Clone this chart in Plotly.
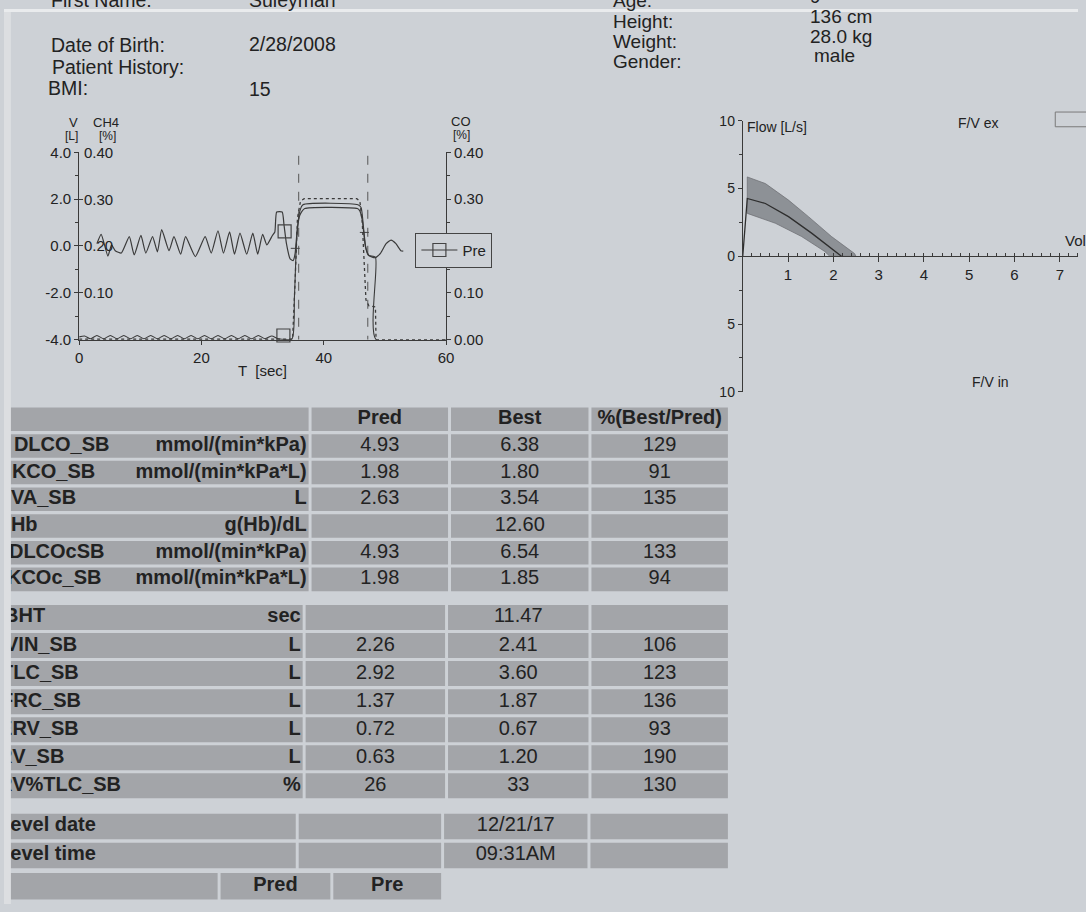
import plotly.graph_objects as go

W, H = 1086, 912
PAPER = "#cdd1d6"
CELL = "#a3a5a9"
INK = "#222222"
LINE = "#3a3a3a"
FONT = "Liberation Sans"

# ---------------- data ----------------
# patient header
left_labels = ["First Name:", "Date of Birth:", "Patient History:", "BMI:"]
left_values = ["Suleyman", "2/28/2008", "", "15"]
right_labels = ["Age:", "Height:", "Weight:", "Gender:"]
right_values = ["9", "136 cm", "28.0 kg", "male"]

# single-breath manoeuvre: volume [L] vs time [s]
vol_t = [2.9, 3.6, 4.7, 5.3, 5.9, 6.9, 8.2, 9.0, 10.1, 10.9, 12.0, 12.8, 13.5, 14.7,
         15.5, 16.6, 17.4, 19.0, 20.6, 21.6, 22.7, 23.6, 24.6, 25.4, 26.3, 27.4, 28.4,
         29.2, 30.0, 30.7, 31.6, 32.0, 32.3, 33.2, 33.5, 33.9, 34.5, 35.0, 35.3, 35.7,
         36.1, 36.9, 45.5, 45.9, 46.3, 46.8, 47.3, 48.4, 49.3, 50.2, 51.0, 51.8, 52.6, 53.0]
vol_v = [0.1, 0.5, -0.43, 0.05, -0.2, -0.3, 0.4, -0.38, 0.45, -0.3, 0.4, -0.25, 0.7, -0.2,
         0.4, -0.35, 0.4, -0.45, 0.4, -0.3, 0.65, -0.3, 0.6, -0.35, 0.55, -0.35, 0.55,
         -0.35, 0.5, 0.05, 0.45, 0.6, 1.45, 1.45, 0.9, 0.1, -0.55, -0.62, -0.35, 0.8,
         1.32, 1.6, 1.6, 1.5, 1.1, 0.0, -0.4, -0.5, -0.3, 0.1, 0.25, 0.1, -0.2, -0.22]

# CH4 tracer [%]
ch4_t = [0.0, 0.9, 1.8, 2.9, 4.0, 5.1, 6.2, 7.3, 8.4, 9.5, 10.6, 11.7, 12.8, 13.9, 15.0,
         16.1, 17.2, 18.3, 19.4, 20.5, 21.6, 22.7, 23.8, 24.9, 26.0, 27.1, 28.2, 29.3,
         30.4, 31.5, 32.6, 34.8, 35.2, 35.6, 36.1, 36.6, 45.6, 46.1, 46.5, 46.9, 47.4,
         48.45, 48.55, 60.0]
ch4_v = [0.006, 0.008, 0.002, 0.009, 0.002, 0.009, 0.002, 0.009, 0.002, 0.009, 0.002,
         0.009, 0.002, 0.009, 0.002, 0.009, 0.002, 0.009, 0.002, 0.009, 0.002, 0.009,
         0.002, 0.009, 0.002, 0.009, 0.002, 0.009, 0.002, 0.008, 0.002, 0.002, 0.09,
         0.22, 0.275, 0.288, 0.288, 0.282, 0.24, 0.195, 0.18, 0.176, 0.0, 0.0]

# CO tracer [%]
co_t = [0.0, 33.0, 34.9, 35.3, 35.7, 36.2, 36.8, 45.4, 45.9, 46.3, 46.6, 46.9, 47.4,
        48.45, 48.55, 60.0]
co_v = [0.001, 0.001, 0.001, 0.12, 0.26, 0.296, 0.301, 0.301, 0.296, 0.25, 0.15, 0.085,
        0.072, 0.070, 0.0, 0.0]

# "Pre" markers (time, volume-axis value)
pre_t = [33.6, None, 33.4, None, 33.5]
pre_v = [0.62, None, -3.82, None, -4.05]

# breath-hold window and evaluation marks
window_t = [35.9, 47.2]
mark_t0 = [34.6, 45.9]
mark_t1 = [36.6, 48.1]
mark_v = [-0.1, 0.58]

# axis tick values
t_ticks = [0, 20, 40, 60]
v_ticks = [-4, -2, 0, 2, 4]
ch4_ticks = [0.1, 0.2, 0.3, 0.4]
co_ticks = [0.0, 0.1, 0.2, 0.3, 0.4]

# flow-volume: measured curve and predicted band
fv_vol = [0.0, 0.10, 0.50, 1.01, 1.52, 1.99, 2.18]
fv_flow = [0.0, 4.27, 3.90, 2.93, 1.71, 0.49, 0.0]
band_up_vol = [0.10, 0.50, 1.01, 1.45, 1.96, 2.47, 2.50]
band_up_flow = [5.86, 5.37, 4.15, 2.93, 1.46, 0.20, 0.0]
band_lo_vol = [0.10, 0.72, 1.30, 1.81, 1.92]
band_lo_flow = [3.17, 2.44, 1.46, 0.36, 0.0]
fv_xticks = [1, 2, 3, 4, 5, 6, 7]
fv_yticks = [-10, -5, 0, 5, 10]

# result table
tbl_header = ["", "Pred", "Best", "%(Best/Pred)"]
dl_names = ["DLCO_SB", "KCO_SB", "VA_SB", "Hb", "DLCOcSB", "KCOc_SB"]
dl_units = ["mmol/(min*kPa)", "mmol/(min*kPa*L)", "L", "g(Hb)/dL", "mmol/(min*kPa)",
            "mmol/(min*kPa*L)"]
dl_pred = [4.93, 1.98, 2.63, None, 4.93, 1.98]
dl_best = [6.38, 1.80, 3.54, 12.60, 6.54, 1.85]
dl_pct = [129, 91, 135, None, 133, 94]

vl_names = ["BHT", "VIN_SB", "TLC_SB", "FRC_SB", "ERV_SB", "RV_SB", "RV%TLC_SB"]
vl_units = ["sec", "L", "L", "L", "L", "L", "%"]
vl_pred = [None, 2.26, 2.92, 1.37, 0.72, 0.63, 26]
vl_best = [11.47, 2.41, 3.60, 1.87, 0.67, 1.20, 33]
vl_pct = [None, 106, 123, 136, 93, 190, 130]

lv_names = ["Level date", "Level time"]
lv_best = ["12/21/17", "09:31AM"]

foot_cols = ["", "Pred", "Pre"]


# ---------------- helpers / layout constants ----------------
def X(px):
    return px / W


def Y(py):
    return 1 - py / H


def fmt(v, unit=""):
    if v is None:
        return ""
    if unit == "%" or isinstance(v, int):
        return f"{v:.0f}"
    return f"{v:.2f}"


fig = go.Figure()

# ---------------- left chart ----------------
fig.add_trace(go.Scatter(x=vol_t, y=vol_v, mode="lines", xaxis="x", yaxis="y",
                         line=dict(color=LINE, width=1.2, shape="spline", smoothing=0.5),
                         showlegend=False, hoverinfo="skip"))
fig.add_trace(go.Scatter(x=ch4_t, y=ch4_v, mode="lines", xaxis="x", yaxis="y2",
                         line=dict(color=LINE, width=1.1, shape="spline", smoothing=0.6),
                         showlegend=False, hoverinfo="skip"))
fig.add_trace(go.Scatter(x=co_t, y=co_v, mode="lines", xaxis="x", yaxis="y3",
                         line=dict(color=LINE, width=1.3, dash="dot"), showlegend=False,
                         hoverinfo="skip"))

WIN_TOP = 3.85
wx, wy = [], []
for t in window_t:
    wx += [t, t, None]
    wy += [WIN_TOP, -4, None]
fig.add_trace(go.Scatter(x=wx, y=wy, mode="lines", xaxis="x", yaxis="y",
                         line=dict(color="#555", width=1, dash="dash"), showlegend=False,
                         hoverinfo="skip"))
mx, my = [], []
for a, b, v in zip(mark_t0, mark_t1, mark_v):
    mx += [a, b, None]
    my += [v, v, None]
fig.add_trace(go.Scatter(x=mx, y=my, mode="lines", xaxis="x", yaxis="y",
                         line=dict(color="#444", width=1, dash="dash"), showlegend=False,
                         hoverinfo="skip"))
fig.add_trace(go.Scatter(x=pre_t, y=pre_v, mode="lines+markers", name="Pre", xaxis="x", yaxis="y",
                         line=dict(color=LINE, width=1),
                         marker=dict(symbol="square-open", size=13, color="#444",
                                     line=dict(width=1.2, color="#444")),
                         cliponaxis=False, hoverinfo="skip"))

# ---------------- flow-volume chart ----------------
poly_x = [band_lo_vol[0]] + band_up_vol + band_lo_vol[::-1]
poly_y = [band_lo_flow[0]] + band_up_flow + band_lo_flow[::-1]
fig.add_trace(go.Scatter(x=poly_x, y=poly_y, mode="lines", fill="toself", xaxis="x4", yaxis="y4",
                         fillcolor="rgba(90,92,98,0.55)", line=dict(color="#6a6c70", width=0.7),
                         showlegend=False, hoverinfo="skip"))
fig.add_trace(go.Scatter(x=fv_vol, y=fv_flow, mode="lines", xaxis="x4", yaxis="y4",
                         line=dict(color="#2e2e2e", width=1.3), showlegend=False, hoverinfo="skip"))

# ---------------- table ----------------
shapes = []
bx, by, bt, bp = [], [], [], []
rx, ry, rt = [], [], []


def rect(x0, x1, yc, h, fill=CELL):
    shapes.append(dict(type="rect", xref="x5", yref="y5", x0=x0, x1=x1, y0=yc - h / 2,
                       y1=yc + h / 2, fillcolor=fill, line=dict(width=0), layer="below"))


def btext(x, y, t, pos):
    if t:
        bx.append(x); by.append(y); bt.append(t); bp.append(pos)


def rtext(x, y, t):
    if t:
        rx.append(x); ry.append(y); rt.append(t)


COLS1 = [(0, 308), (311, 449), (452, 591), (594, 732)]
COLS2 = [(0, 302), (305, 446), (449, 591), (594, 732)]
COLS3 = [(0, 295), (298, 442), (445, 590), (593, 732)]
COLS4 = [(0, 216), (219, 330), (333, 442)]
NAME_X1 = [10, 8, 7, 7, 5, 3]
NAME_X2 = [0, 1, -3, -3, -5, -6, -6]
NAME_X3 = [-6, -6]

# block 1
top, pitch, h = 418, 27.2, 24
for a, b in COLS1:
    rect(a, b, top, h)
for (a, b), lab in zip(COLS1, tbl_header):
    btext((a + b) / 2, top, lab, "middle center")
for i in range(len(dl_names)):
    yc = top + pitch * (i + 1)
    for a, b in COLS1:
        rect(a, b, yc, h)
    btext(NAME_X1[i], yc, dl_names[i], "middle right")
    btext(COLS1[0][1] - 2, yc, dl_units[i], "middle left")
    rtext(sum(COLS1[1]) / 2, yc, fmt(dl_pred[i]))
    rtext(sum(COLS1[2]) / 2, yc, fmt(dl_best[i]))
    rtext(sum(COLS1[3]) / 2, yc, fmt(dl_pct[i]))

# block 2
top, pitch, h = 620, 28.6, 25.5
for i in range(len(vl_names)):
    yc = top + pitch * i
    for a, b in COLS2:
        rect(a, b, yc, h)
    btext(NAME_X2[i], yc, vl_names[i], "middle right")
    btext(COLS2[0][1] - 2, yc, vl_units[i], "middle left")
    rtext(sum(COLS2[1]) / 2, yc, fmt(vl_pred[i], vl_units[i]))
    rtext(sum(COLS2[2]) / 2, yc, fmt(vl_best[i], vl_units[i]))
    rtext(sum(COLS2[3]) / 2, yc, fmt(vl_pct[i], "%"))

# block 3
top, pitch, h = 833, 29.5, 26
for i in range(len(lv_names)):
    yc = top + pitch * i
    for a, b in COLS3:
        rect(a, b, yc, h)
    btext(NAME_X3[i], yc, lv_names[i], "middle right")
    rtext(sum(COLS3[2]) / 2, yc, lv_best[i])

# block 4
yc, h = 894, 27
for (a, b), lab in zip(COLS4, foot_cols):
    rect(a, b, yc, h)
    btext((a + b) / 2, yc, lab, "middle center")

fig.add_trace(go.Scatter(x=bx, y=by, text=bt, textposition=bp, mode="text", xaxis="x5", yaxis="y5",
                         textfont=dict(family=FONT, size=20, color=INK, weight="bold"),
                         showlegend=False, hoverinfo="skip"))
fig.add_trace(go.Scatter(x=rx, y=ry, text=rt, textposition="middle center", mode="text",
                         xaxis="x5", yaxis="y5",
                         textfont=dict(family=FONT, size=20, color=INK),
                         showlegend=False, hoverinfo="skip"))

# photo edges
shapes.append(dict(type="rect", xref="paper", yref="paper", x0=0, x1=X(7), y0=0, y1=1,
                   fillcolor="#dcdee1", line=dict(width=0), layer="above"))
shapes.append(dict(type="rect", xref="paper", yref="paper", x0=0, x1=1, y0=Y(3), y1=1,
                   fillcolor="#e9ebed", line=dict(width=0), layer="above"))
# small legend swatch of the flow-volume chart
shapes.append(dict(type="rect", xref="paper", yref="paper", x0=X(1063), x1=X(1096),
                   y0=Y(120), y1=Y(105), line=dict(color="#7a7a7a", width=1),
                   fillcolor="rgba(0,0,0,0)"))

# ---------------- annotations ----------------
ann = []


def note(x, y, text, size=20, xanchor="left"):
    ann.append(dict(x=X(x), y=Y(y), xref="paper", yref="paper", text=text, showarrow=False,
                    xanchor=xanchor, yanchor="middle", font=dict(family=FONT, size=size, color=INK)))


LEFT_LAB_X = [45, 45, 47, 42]
LEFT_Y = [-9, 37, 59, 81]
LEFT_VAL_Y = [-9, 36, 59, 82]
for lab, val, lx, ly, vy in zip(left_labels, left_values, LEFT_LAB_X, LEFT_Y, LEFT_VAL_Y):
    note(lx, ly, lab, 19.5)
    if val:
        note(246, vy, val, 19.5)
RIGHT_Y = [-9, 13, 33, 53]
RIGHT_VAL_Y = [-13, 8, 28, 47]
RIGHT_VAL_X = [813, 813, 813, 817]
for lab, val, ly, vy, vx in zip(right_labels, right_values, RIGHT_Y, RIGHT_VAL_Y, RIGHT_VAL_X):
    note(614, ly, lab, 19)
    note(vx, vy, val, 19)

note(70, 116, "V", 13, "center")
note(103, 116, "CH4", 13, "center")
note(68, 129, "[L]", 12, "center")
note(105, 129, "[%]", 12, "center")
note(462, 115, "CO", 13, "center")
note(463, 128, "[%]", 12, "center")
note(261, 368, "T  [sec]", 15, "center")

note(749, 120, "Flow [L/s]", 14)
note(985, 116, "F/V ex", 14, "center")
note(998, 380, "F/V in", 14, "center")
note(1071, 236, "Volume [L]", 15)

# CH4 tick labels sit inside the plot, right of the volume axis
for v in ch4_ticks:
    ann.append(dict(x=0, y=v, xref="x", yref="y2", text=f"{v:.2f}", showarrow=False,
                    xanchor="left", yanchor="middle", xshift=3,
                    font=dict(family=FONT, size=15, color=INK)))

# ---------------- axes ----------------
axis_common = dict(showgrid=False, zeroline=False, linecolor=LINE, linewidth=1, tickcolor=LINE,
                   tickfont=dict(family=FONT, size=15, color=INK))
fv_x0 = 747
fv_scale = 45.8
fv_top, fv_bot = 114, 390

fig.update_layout(
    width=W, height=H, autosize=False,
    margin=dict(l=0, r=0, t=0, b=0, pad=0),
    paper_bgcolor=PAPER, plot_bgcolor="rgba(0,0,0,0)",
    font=dict(family=FONT, color=INK),
    shapes=shapes, annotations=ann,
    showlegend=True,
    legend=dict(x=X(416), y=Y(228), xanchor="left", yanchor="top", bgcolor=PAPER,
                bordercolor="#444", borderwidth=1, font=dict(family=FONT, size=15, color=INK),
                itemwidth=36),
    xaxis=dict(domain=[X(76), X(447)], range=[0, 60], anchor="y", showline=True,
               ticks="outside", ticklen=4, tickvals=t_ticks, **axis_common),
    yaxis=dict(domain=[Y(337), Y(146)], range=[-4, 4], anchor="x", showline=True,
               ticks="outside", ticklen=4, tickvals=v_ticks,
               ticktext=[f"{v:.1f}" for v in v_ticks],
               minor=dict(tickvals=[-3, -1, 1, 3], ticks="outside", ticklen=3, tickcolor=LINE),
               **axis_common),
    yaxis2=dict(overlaying="y", anchor="x", side="left", range=[0, 0.4], showline=False,
                ticks="inside", ticklen=4, tickvals=ch4_ticks, showticklabels=False,
                **axis_common),
    yaxis3=dict(overlaying="y", anchor="x", side="right", range=[0, 0.4], showline=True,
                ticks="outside", ticklen=4, tickvals=co_ticks,
                ticktext=["" if abs(v - 0.2) < 1e-9 else f"{v:.2f}" for v in co_ticks],
                minor=dict(tickvals=[0.05, 0.15, 0.25, 0.35], ticks="outside", ticklen=3,
                           tickcolor=LINE),
                **axis_common),
    xaxis4=dict(domain=[X(fv_x0), 1.0], range=[0, (W - fv_x0) / fv_scale], anchor="free",
                position=Y((fv_top + fv_bot) / 2), showline=True, ticks="outside", ticklen=5,
                tickvals=fv_xticks,
                minor=dict(tickmode="linear", tick0=0, dtick=0.2, ticks="inside", ticklen=3,
                           tickcolor=LINE),
                **axis_common),
    yaxis4=dict(domain=[Y(fv_bot), Y(fv_top)], range=[-10, 10], anchor="x4", showline=True,
                ticks="outside", ticklen=4, tickvals=fv_yticks,
                ticktext=[f"{abs(v)}" for v in fv_yticks],
                minor=dict(tickvals=[-7.5, -2.5, 2.5, 7.5], ticks="outside", ticklen=3,
                           tickcolor=LINE),
                **{**axis_common, "tickfont": dict(family=FONT, size=14, color=INK)}),
    xaxis5=dict(domain=[0, 1], range=[0, W], anchor="y5", visible=False),
    yaxis5=dict(domain=[0, 1], range=[H, 0], anchor="x5", visible=False),
)

fig.write_html("out.html", include_plotlyjs=True, config={"displayModeBar": False},
               post_script="document.body.style.margin='0';")
